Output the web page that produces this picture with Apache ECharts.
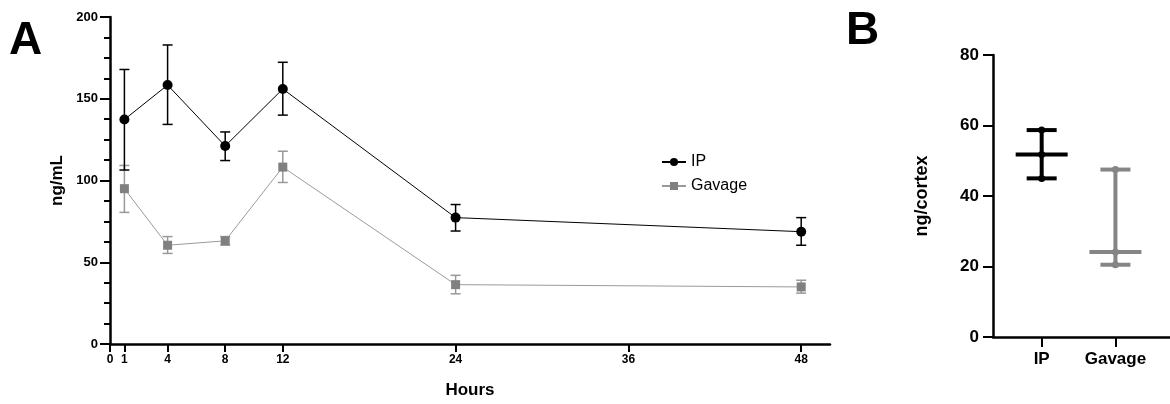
<!DOCTYPE html>
<html>
<head>
<meta charset="utf-8">
<script src="https://cdn.jsdelivr.net/npm/echarts@6/dist/echarts.min.js"></script>
<style>html,body{margin:0;background:#fff}#main{width:1170px;height:404px}</style>
</head>
<body>
<div id="main"></div>
<script>
// panel A: plasma level over time
var hours = [1, 4, 8, 12, 24, 48];
var hourTicks = [0, 1, 4, 8, 12, 24, 36, 48];
var ipMean = [137.3, 158.4, 121.1, 156.0, 77.3, 68.7];
var ipLow = [106.4, 134.3, 112.2, 140.0, 69.1, 60.4];
var ipHigh = [167.9, 182.9, 129.7, 172.3, 85.3, 77.3];
var gavMean = [95.0, 60.4, 63.1, 108.2, 36.3, 34.9];
var gavLow = [80.5, 55.4, 60.5, 98.8, 30.7, 31.1];
var gavHigh = [109.2, 65.7, 65.7, 117.9, 42.0, 39.0];

// panel B: cortex level
var groups = ['IP', 'Gavage'];
var cortexMid = [51.8, 24.1];
var cortexLow = [45.0, 20.5];
var cortexHigh = [58.7, 47.5];

var FONT = "'Liberation Sans', Arial, sans-serif";
var GRAY = '#858585';

var myChart = echarts.init(document.getElementById('main'));

function errorBars(color, width, cap) {
    return function (params, api) {
        var x = api.value(0);
        var lo = api.coord([x, api.value(1)]);
        var hi = api.coord([x, api.value(2)]);
        var st = {stroke: color, lineWidth: width};
        return {type: 'group', children: [
            {type: 'line', shape: {x1: lo[0], y1: lo[1], x2: hi[0], y2: hi[1]}, style: st},
            {type: 'line', shape: {x1: lo[0] - cap, y1: lo[1], x2: lo[0] + cap, y2: lo[1]}, style: st},
            {type: 'line', shape: {x1: hi[0] - cap, y1: hi[1], x2: hi[0] + cap, y2: hi[1]}, style: st}
        ]};
    };
}

function rangeMarks(params, api) {
    var x = api.value(0);
    var color = params.dataIndex === 0 ? '#000' : GRAY;
    var lo = api.coord([x, api.value(1)]);
    var mid = api.coord([x, api.value(2)]);
    var hi = api.coord([x, api.value(3)]);
    var st = {stroke: color, lineWidth: 4};
    var dot = {fill: color};
    return {type: 'group', children: [
        {type: 'line', shape: {x1: lo[0], y1: lo[1], x2: hi[0], y2: hi[1]}, style: st},
        {type: 'line', shape: {x1: lo[0] - 15, y1: lo[1], x2: lo[0] + 15, y2: lo[1]}, style: st},
        {type: 'line', shape: {x1: hi[0] - 15, y1: hi[1], x2: hi[0] + 15, y2: hi[1]}, style: st},
        {type: 'line', shape: {x1: mid[0] - 26, y1: mid[1], x2: mid[0] + 26, y2: mid[1]}, style: st},
        {type: 'circle', shape: {cx: lo[0], cy: lo[1], r: 3.5}, style: dot},
        {type: 'circle', shape: {cx: mid[0], cy: mid[1], r: 3.5}, style: dot},
        {type: 'circle', shape: {cx: hi[0], cy: hi[1], r: 3.5}, style: dot}
    ]};
}

var axisLine = {show: true, onZero: false, lineStyle: {color: '#000', width: 2.5}};

var option = {
    animation: false,
    textStyle: {fontFamily: FONT},
    graphic: [
        {type: 'text', left: 9, top: 18, style: {text: 'A', font: 'bold 46px ' + FONT, fill: '#000'}},
        {type: 'text', left: 846, top: 8, style: {text: 'B', font: 'bold 46px ' + FONT, fill: '#000'}}
    ],
    legend: {
        data: ['IP', 'Gavage'],
        orient: 'vertical',
        left: 656,
        top: 149,
        itemWidth: 24,
        itemHeight: 10,
        itemGap: 8,
        textStyle: {fontSize: 16, color: '#000', fontFamily: FONT}
    },
    grid: [
        {left: 110, top: 17, width: 720, height: 332},
        {left: 993, top: 55, width: 192, height: 282}
    ],
    xAxis: [
        {
            gridIndex: 0, type: 'value', min: 0, max: 50,
            name: 'Hours', nameLocation: 'middle', nameGap: 38,
            nameTextStyle: {fontSize: 17, fontWeight: 'bold', color: '#000'},
            axisLine: axisLine,
            axisTick: {show: true, length: 8, lineStyle: {width: 2, color: '#000'}, customValues: hourTicks},
            axisLabel: {fontSize: 12, fontWeight: 'bold', color: '#000', margin: 10, customValues: hourTicks},
            splitLine: {show: false}
        },
        {
            gridIndex: 1, type: 'value', min: -0.66, max: 1.74,
            axisLine: axisLine,
            axisTick: {show: true, length: 10, lineStyle: {width: 2, color: '#000'}, customValues: [0, 1]},
            axisLabel: {
                fontSize: 17, fontWeight: 'bold', color: '#000', margin: 14, customValues: [0, 1],
                formatter: function (v) { return groups[Math.round(v)]; }
            },
            splitLine: {show: false}
        }
    ],
    yAxis: [
        {
            gridIndex: 0, type: 'value', min: 0, max: 200, interval: 50,
            name: 'ng/mL', nameLocation: 'middle', nameGap: 36,
            nameTextStyle: {fontSize: 17, fontWeight: 'bold', color: '#000'},
            axisLine: axisLine,
            axisTick: {show: true, length: 10, lineStyle: {width: 2, color: '#000'}},
            minorTick: {show: true, splitNumber: 4, length: 6, lineStyle: {width: 2, color: '#000'}},
            axisLabel: {fontSize: 13, fontWeight: 'bold', color: '#000', margin: 12},
            splitLine: {show: false}
        },
        {
            gridIndex: 1, type: 'value', min: 0, max: 80, interval: 20,
            name: 'ng/cortex', nameLocation: 'middle', nameGap: 62,
            nameTextStyle: {fontSize: 18, fontWeight: 'bold', color: '#000'},
            axisLine: axisLine,
            axisTick: {show: true, length: 10, lineStyle: {width: 2, color: '#000'}},
            axisLabel: {fontSize: 17, fontWeight: 'bold', color: '#000', margin: 14},
            splitLine: {show: false}
        }
    ],
    series: [
        {
            name: 'IP err', type: 'custom', xAxisIndex: 0, yAxisIndex: 0,
            renderItem: errorBars('#000', 1.5, 5),
            encode: {x: 0, y: [1, 2]},
            data: hours.map(function (h, i) { return [h, ipLow[i], ipHigh[i]]; }),
            z: 3
        },
        {
            name: 'Gavage err', type: 'custom', xAxisIndex: 0, yAxisIndex: 0,
            renderItem: errorBars('#999', 1.5, 5),
            encode: {x: 0, y: [1, 2]},
            data: hours.map(function (h, i) { return [h, gavLow[i], gavHigh[i]]; }),
            z: 2
        },
        {
            name: 'IP', type: 'line', xAxisIndex: 0, yAxisIndex: 0,
            symbol: 'circle', symbolSize: 10,
            itemStyle: {color: '#000'},
            lineStyle: {color: '#000', width: 1},
            data: hours.map(function (h, i) { return [h, ipMean[i]]; }),
            z: 4
        },
        {
            name: 'Gavage', type: 'line', xAxisIndex: 0, yAxisIndex: 0,
            symbol: 'rect', symbolSize: 9,
            itemStyle: {color: '#808080'},
            lineStyle: {color: '#9a9a9a', width: 1},
            data: hours.map(function (h, i) { return [h, gavMean[i]]; }),
            z: 3
        },
        {
            name: 'cortex', type: 'custom', xAxisIndex: 1, yAxisIndex: 1,
            renderItem: rangeMarks,
            encode: {x: 0, y: [1, 2, 3]},
            data: groups.map(function (g, i) { return [i, cortexLow[i], cortexMid[i], cortexHigh[i]]; })
        }
    ]
};

myChart.setOption(option);
</script>
</body>
</html>
